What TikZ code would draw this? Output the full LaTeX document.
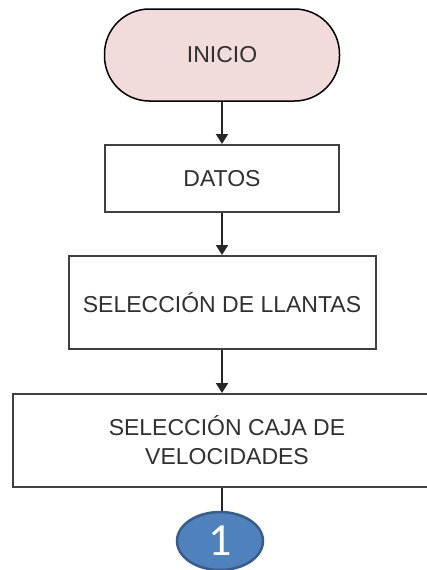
\documentclass[tikz,border=0pt]{standalone}
\usepackage{fontspec}
\setmainfont{Liberation Sans}
\newfontfamily\numfont{Carlito}
\usetikzlibrary{arrows.meta,shapes.geometric}
\definecolor{termfill}{HTML}{F2DCDB}
\definecolor{boxline}{HTML}{404040}
\definecolor{txt}{HTML}{303030}
\definecolor{connfill}{HTML}{4F81BD}
\definecolor{connline}{HTML}{385D8A}
\begin{document}
\begin{tikzpicture}[x=1pt,y=1pt,
  txtstyle/.style={text=txt,font=\fontsize{23}{29}\selectfont,align=center,inner sep=0pt},
  term/.style={txtstyle,draw=black,line width=1.5pt,fill=termfill,rounded corners=45pt,minimum width=235pt,minimum height=92pt},
  procbox/.style={txtstyle,draw=boxline,line width=2pt,fill=white},
  conn/.style={ellipse,draw=connline,line width=2.5pt,fill=connfill,minimum width=86pt,minimum height=58pt,inner sep=0pt,text=white,font=\numfont\fontsize{46}{46}\selectfont},
  flow/.style={draw=black!85,line width=2pt,-{Triangle[length=10pt,width=12pt]}},
  plain/.style={draw=black!85,line width=2pt}]
\useasboundingbox (0,0) rectangle (426,-570);
\node[term] (inicio) at (222,-55) {INICIO};
\node[procbox,minimum width=234pt,minimum height=67pt] (datos) at (222,-178.5) {DATOS};
\node[procbox,minimum width=307pt,minimum height=93pt] (llantas) at (222,-302.5) {SELECCIÓN DE LLANTAS};
\node[procbox,minimum width=428pt,minimum height=93pt] (caja) at (227,-440.5) {SELECCIÓN CAJA DE\\VELOCIDADES};
\node[conn] (c1) at (220,-541) {1};
\draw[flow] (inicio.south) -- (inicio.south |- datos.north);
\draw[flow] (datos.south) -- (datos.south |- llantas.north);
\draw[flow] (llantas.south) -- (llantas.south |- caja.north);
\draw[plain] (c1.north -| llantas.south) -- (llantas.south |- caja.south);
\end{tikzpicture}
\end{document}
